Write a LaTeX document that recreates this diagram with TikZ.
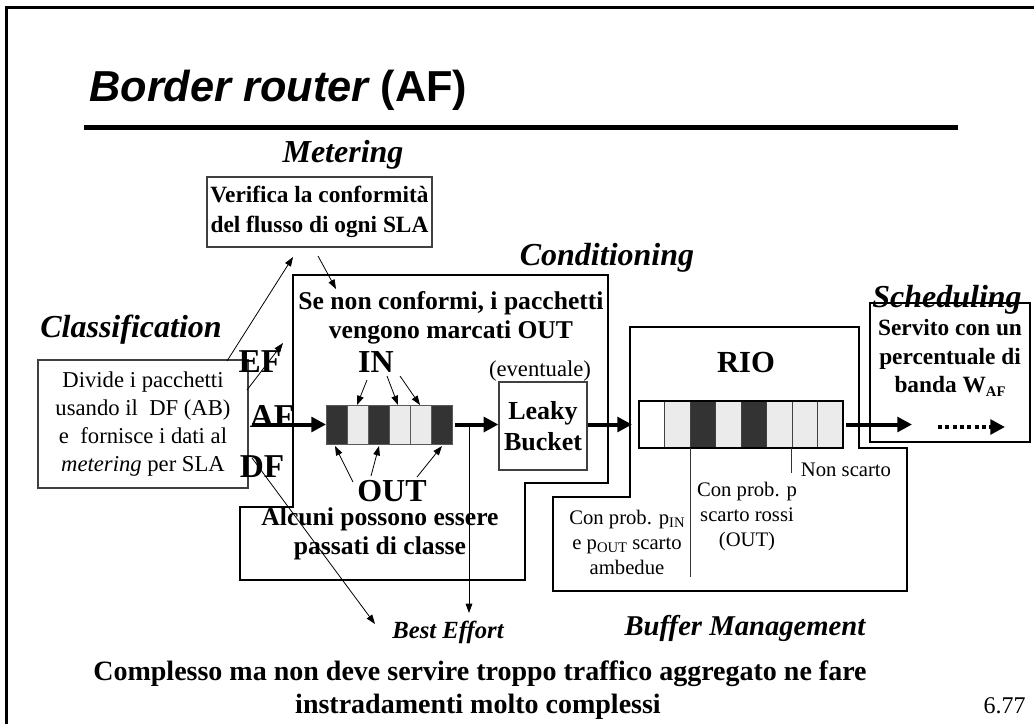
\documentclass[tikz,border=0pt]{standalone}
\usepackage{fontspec}
\setmainfont{Liberation Serif}
\newfontfamily\arialf{Liberation Sans}
\usetikzlibrary{arrows.meta}
\newcommand{\lowsub}[1]{\raisebox{-0.35ex}{\fontsize{11}{11}\selectfont #1}}
\begin{document}
\begin{tikzpicture}[x=0.75pt,y=-0.75pt,
  sect/.style={font=\fontsize{24}{28}\selectfont\bfseries\itshape, inner sep=0pt},
  btxt/.style={font=\fontsize{19.2}{21.5}\selectfont\bfseries, align=center, inner sep=0pt},
  rtxt/.style={font=\fontsize{17}{21}\selectfont, align=center, inner sep=0pt},
  stxt/.style={font=\fontsize{15.5}{18.75}\selectfont, align=center, inner sep=0pt},
  big/.style={font=\fontsize{24}{28}\selectfont\bfseries, inner sep=0pt},
  thinbox/.style={draw=black!75, line width=0.9pt},
  fatbox/.style={draw=black, line width=1.5pt},
  thinarrow/.style={-{Triangle[length=7pt,width=5pt]}, line width=0.6pt},
  fatarrow/.style={-{Triangle[length=11pt,width=11pt]}, line width=3pt},
  darkcell/.style={fill=black!80, draw=black!65, line width=0.6pt},
  lightcell/.style={fill=black!8, draw=black!65, line width=0.6pt},
]
\useasboundingbox (0,0) rectangle (1034,724);
% frame
\draw[line width=2.25pt] (6,724) -- (6,8) -- (1034,8);
% title
\node[anchor=base west, font=\arialf\fontsize{32.5}{38}\selectfont\bfseries, inner sep=0pt] (title) at (89,101) {\itshape Border router\upshape{} (AF)};
\draw[line width=3.75pt] (84,127) -- (958,127);

% section labels
\node[sect] (metlbl) at (343,155) {Metering};
\node[sect] (condlbl) at (607,258) {Conditioning};
\node[sect] (schedlbl) at (947,300) {Scheduling};
\node[sect] (classlbl) at (131,330) {Classification};
\node[sect, font=\fontsize{21.5}{26}\selectfont\bfseries\itshape] (buflbl) at (745,628) {Buffer Management};

% metering box
\node[thinbox, minimum width=168.75pt, minimum height=52.5pt, btxt, font=\fontsize{17.5}{23}\selectfont\bfseries] (met) at (319.5,212) {Verifica la conformità\\del flusso di ogni SLA};

% classification box
\node[thinbox, minimum width=157.5pt, minimum height=96pt, rtxt] (cls) at (143,424) {Divide i pacchetti\\usando il\ \ DF (AB)\\e\ \ fornisce i dati al\\\textit{metering} per SLA};

% conditioning polygon
\draw[fatbox] (293,275) -- (608,275) -- (608,483) -- (525,483) -- (525,580) -- (240,580) -- (240,507) -- (293,507) -- cycle;
\node[btxt] (condtxt) at (451,318) {Se non conformi, i pacchetti\\vengono marcati OUT};
\node[btxt] (alcuni) at (380,534) {Alcuni possono essere\\passati di classe};

% RIO polygon
\draw[fatbox] (630,327) -- (859,327) -- (859,448) -- (907,448) -- (907,591) -- (553,591) -- (553,497) -- (630,497) -- cycle;

% scheduling box
\draw[fatbox] (870,303) rectangle (1030,442);
\node[btxt, font=\fontsize{17.5}{21.4}\selectfont\bfseries] (schedtxt) at (950,358) {Servito con un\\percentuale di\\banda W\lowsub{AF}};

% EF AF DF
\node[big, font=\fontsize{25}{28}\selectfont\bfseries] (ef) at (260,362) {EF};
\node[big, font=\fontsize{25}{28}\selectfont\bfseries] (af) at (272,416) {AF};
\node[big, font=\fontsize{25}{28}\selectfont\bfseries] (df) at (262,467) {DF};

% conditioning queue
\foreach \i/\s in {0/darkcell,1/lightcell,2/darkcell,3/lightcell,4/lightcell,5/darkcell}{
  \draw[\s] ({326+\i*21},405) rectangle ({347+\i*21},444);
}
\coordinate (qin) at (326,424.5);
\coordinate (qout) at (455,424.5);
\coordinate (c2t) at (357,405);
\coordinate (c4t) at (398,405);
\coordinate (c5t) at (420,405);
\coordinate (c1b) at (335,446);
\coordinate (c3b) at (379,446);
\coordinate (c6b) at (442,446);
\node[big] (in) at (376,362) {IN};
\node[big] (out) at (392,491) {OUT};

% leaky bucket
\node[rtxt] (evt) at (540,371) {(eventuale)};
\node[thinbox, minimum width=66pt, minimum height=66pt, btxt, font=\fontsize{19.5}{23}\selectfont\bfseries] (leaky) at (543,426) {Leaky\\Bucket};

% RIO queue
\node[big, font=\fontsize{23}{26}\selectfont\bfseries] (rio) at (746,362) {RIO};
\foreach \i/\c in {0/white,1/black!8,2/black!80,3/black!8,4/black!80,5/black!8,6/black!8,7/black!8}{
  \fill[\c] ({639+\i*25.5},401) rectangle ({664.5+\i*25.5},448);
}
\foreach \i in {1,...,7}{ \draw[black!75, line width=0.7pt] ({639+\i*25.5},401) -- ({639+\i*25.5},448); }
\draw[black, line width=0.8pt] (639,401) rectangle (843,448);
\coordinate (rin) at (632,424.5);
\coordinate (rout) at (846,424.5);
\coordinate (l1a) at (690,448);
\coordinate (l1b) at (690,577);
\coordinate (l2a) at (791,448);
\coordinate (l2b) at (791,473);
\draw[black!80, line width=0.7pt] (l1a) -- (l1b);
\draw[black!80, line width=0.7pt] (l2a) -- (l2b);
\node[stxt] (nonsc) at (846,470) {Non scarto};
\node[stxt] (prob1) at (747,517) {Con prob. p\\scarto rossi\\(OUT)};
\node[stxt] (prob2) at (627,542) {Con prob. p\lowsub{IN}\\e p\lowsub{OUT} scarto\\ambedue};

% best effort
\node[font=\fontsize{18.5}{22}\selectfont\bfseries\itshape, inner sep=0pt] (be) at (448,632) {Best Effort};

% bottom text
\node[anchor=base, font=\fontsize{21}{25}\selectfont\bfseries, inner sep=0pt] (bot1) at (480,680) {Complesso ma non deve servire troppo traffico aggregato ne fare};
\node[anchor=base, font=\fontsize{21}{25}\selectfont\bfseries, inner sep=0pt] (bot2) at (478,713) {instradamenti molto complessi};
\node[anchor=base east, font=\fontsize{18}{20}\selectfont, inner sep=0pt] (pg) at (1026,713) {6.77};

% coordinates for connectors
\coordinate (clsTop) at (227,361);
\coordinate (metBotL) at (293,257);
\coordinate (metBotR) at (318,256);
\coordinate (condIn) at (336,289);
\coordinate (efS) at (247,390);
\coordinate (efE) at (283,343);
\coordinate (afS) at (252,424.5);
\coordinate (dfS) at (252,458);
\coordinate (dfE) at (375,624);
\coordinate (beS) at (469,424.5);
\coordinate (beE) at (469,613);
\coordinate (schIn) at (912,424.5);
\coordinate (dotS) at (938,427);
\coordinate (dotE) at (1005,427);

% thin arrows
\draw[thinarrow] (clsTop) -- (metBotL);
\draw[thinarrow] (metBotR) -- (condIn);
\draw[thinarrow] (efS) -- (efE);
\draw[thinarrow] (dfS) -- (dfE);
\draw[thinarrow] (beS) -- (beE);
\draw[thinarrow] (367,380) -- (c2t);
\draw[thinarrow] (387,376) -- (c4t);
\draw[thinarrow] (400,376) -- (c5t);
\draw[thinarrow] (353,482) -- (c1b);
\draw[thinarrow] (371,476) -- (c3b);
\draw[thinarrow] (417,477) -- (c6b);

% fat arrows
\draw[fatarrow] (afS) -- (qin);
\draw[fatarrow] (qout) -- (leaky.west |- qout);
\draw[fatarrow] (leaky.east |- qout) -- (rin);
\draw[fatarrow] (rout) -- (schIn);
\draw[-{Triangle[length=11pt,width=11pt]}, line width=3pt, dash pattern=on 3pt off 2.5pt] (dotS) -- (dotE);
\end{tikzpicture}
\end{document}
